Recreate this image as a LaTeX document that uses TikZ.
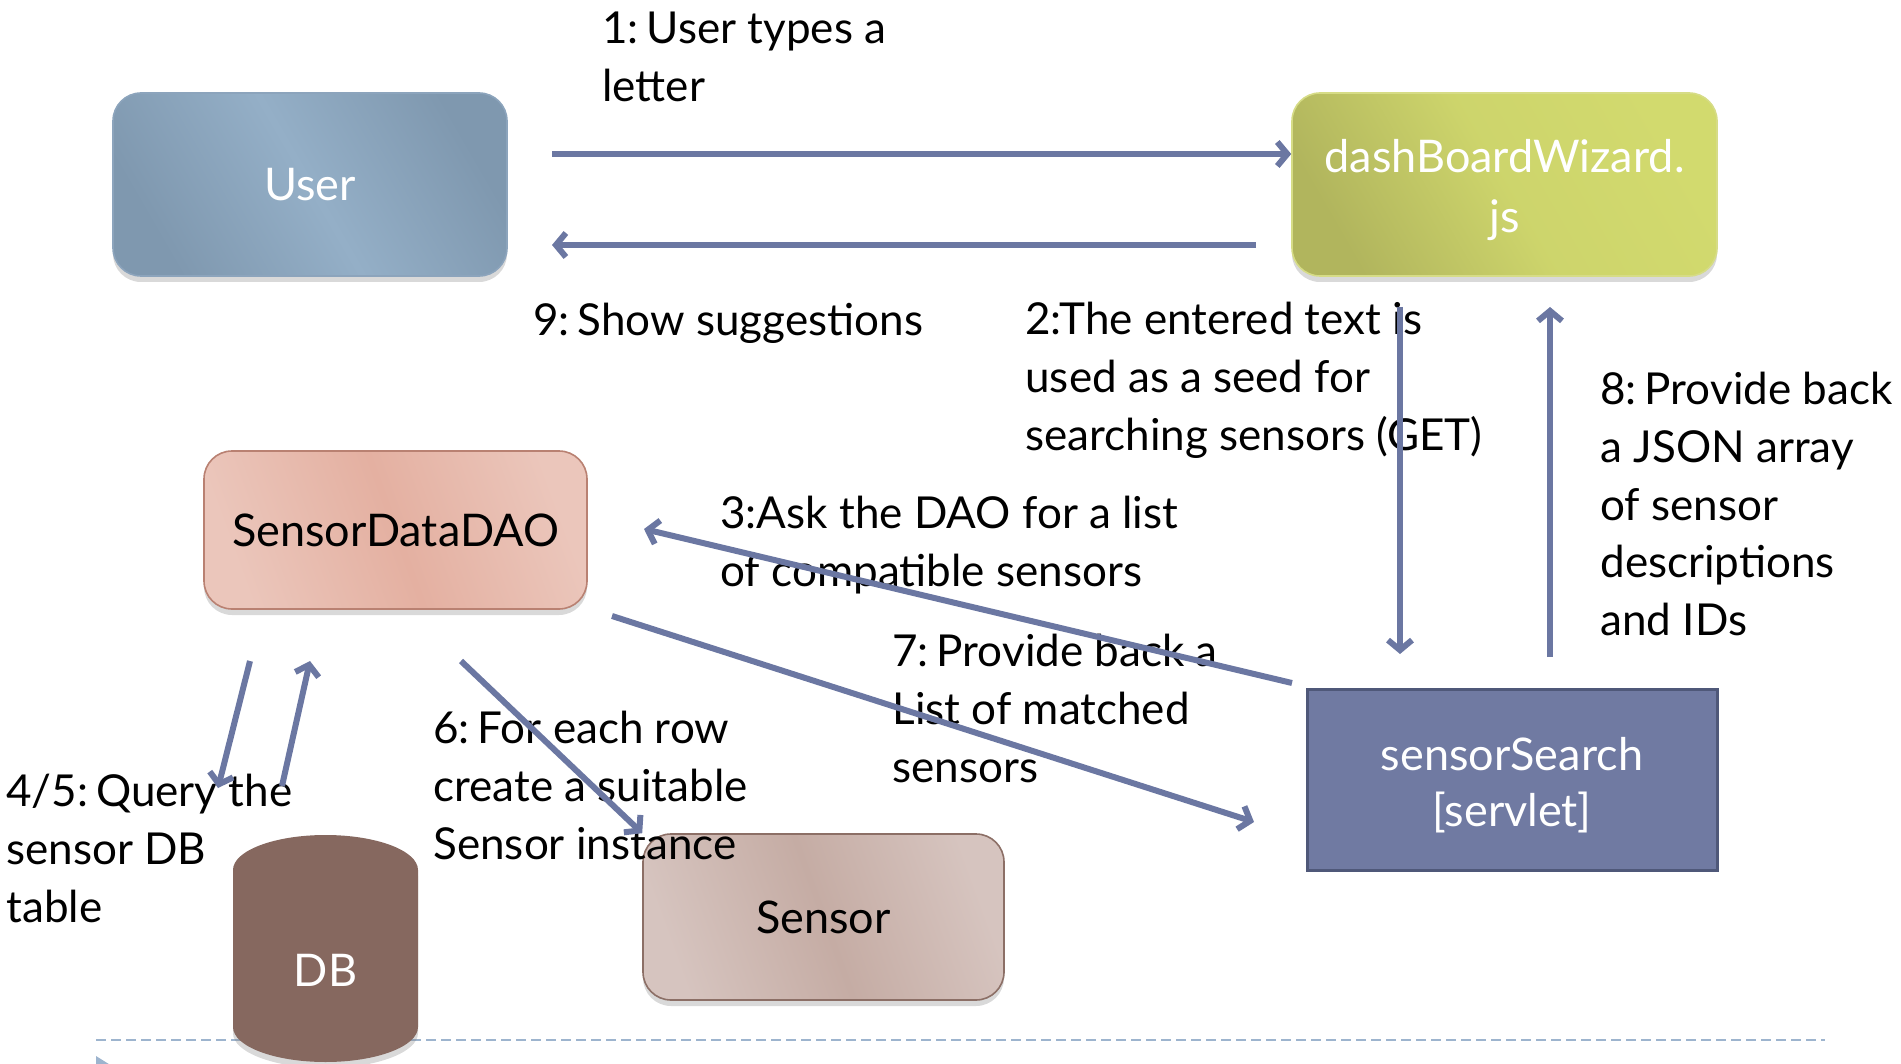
\documentclass[tikz,border=0pt]{standalone}
\usepackage{fontspec}
\setmainfont{Lato}
\usetikzlibrary{arrows.meta,shadows}

\definecolor{flowblue}{HTML}{6B77A2}
\definecolor{ruleblue}{HTML}{9DB4CE}
\definecolor{userdark}{HTML}{7F98AF}
\definecolor{userlight}{HTML}{94AFC7}
\definecolor{userrim}{HTML}{8CA4BC}
\definecolor{dashdark}{HTML}{B1B55D}
\definecolor{dashlight}{HTML}{D2DA6E}
\definecolor{dashrim}{HTML}{D6DC86}
\definecolor{daolight}{HTML}{EBC6BB}
\definecolor{daodark}{HTML}{E4B0A1}
\definecolor{daorim}{HTML}{B98172}
\definecolor{searchfill}{HTML}{707AA2}
\definecolor{searchrim}{HTML}{4F5879}
\definecolor{sensorlight}{HTML}{D6C4BF}
\definecolor{sensordark}{HTML}{C5ACA4}
\definecolor{sensorrim}{HTML}{8C6F66}
\definecolor{dbfill}{HTML}{86685F}

\newcommand{\cgap}{\hspace{0.18em}}

\begin{document}
\begin{tikzpicture}[x=0.5pt,y=0.5pt,yscale=-1,xscale=1,
    flow/.style={draw=flowblue,line width=3pt,-{Straight Barb[length=5pt,width=12pt]}},
    lbl/.style={anchor=north west,inner sep=0pt,align=left,font=\fontsize{22}{28.8}\selectfont},
    boxtxt/.style={font=\fontsize{22.5}{29}\selectfont,align=center,inner sep=0pt},
    softshadow/.style={drop shadow={shadow xshift=0pt,shadow yshift=-3pt,opacity=0.3}}]
    \useasboundingbox (0,0) rectangle (1901,1064);

    %Straight Lines: slide rule
    \draw[ruleblue,line width=1.2pt,dash pattern=on 5pt off 2.5pt] (96,1040) -- (1825,1040);
    \fill[ruleblue] (96,1056) -- (112,1066) -- (96,1076) -- cycle;

    %Shape: Rounded Rect [user]
    \node[boxtxt,text=white,rounded corners=14pt,minimum width=197pt,minimum height=91.5pt,
        draw=userrim,line width=0.8pt,left color=userdark,right color=userdark,middle color=userlight,
        shading angle=120,softshadow] (user) at (310,184.5) {User};
    %Shape: Rounded Rect [dashboard]
    \node[boxtxt,text=white,rounded corners=14pt,minimum width=212.5pt,minimum height=91.5pt,
        draw=dashrim,line width=0.8pt,left color=dashdark,right color=dashlight,middle color=dashlight!85!dashdark,
        shading angle=120,softshadow] (dash) at (1504.5,184.5) {};
    \node[boxtxt,text=white,font=\fontsize{22.5}{30}\selectfont] (dashtxt) at (1504.5,190) {dashBoardWizard.\\js};
    %Shape: Rounded Rect [dao]
    \node[boxtxt,rounded corners=14pt,minimum width=191.5pt,minimum height=79pt,
        draw=daorim,line width=0.8pt,left color=daolight,right color=daolight,middle color=daodark,
        shading angle=110,softshadow] (dao) at (395.5,530) {SensorDataDAO};
    %Shape: Rectangle [servlet]
    \node[boxtxt,text=white,minimum width=205pt,minimum height=90.5pt,
        draw=searchrim,line width=1.5pt,fill=searchfill] (search) at (1512,779.5) {};
    \node[boxtxt,text=white,font=\fontsize{22.5}{28}\selectfont] (searchtxt) at (1512,785) {sensorSearch\\{[servlet]}};
    %Shape: Rounded Rect [sensor]
    \node[boxtxt,rounded corners=14pt,minimum width=180.5pt,minimum height=83pt,
        draw=sensorrim,line width=0.8pt,left color=sensorlight,right color=sensorlight,middle color=sensordark,
        shading angle=110,softshadow] (sensor) at (823.5,917) {Sensor};
    %Shape: Can [db]
    \fill[dbfill,softshadow] (233,870) arc[start angle=180,end angle=360,x radius=92.5,y radius=35]
        -- (418,1027) arc[start angle=0,end angle=180,x radius=92.5,y radius=35] -- cycle;
    \node[boxtxt,text=white] (db) at (325.5,970) {DB};

    % Text Node
    \node[lbl] (txtType) at (602,12) {1:\cgap User types a\\letter};
    % Text Node
    \node[lbl] (txtShow) at (533,303) {9:\cgap Show suggestions};
    % Text Node
    \node[lbl] (txtSeed) at (1025,302) {2:The entered text is\\used as a seed for\\searching sensors (GET)};
    % Text Node
    \node[lbl] (txtJson) at (1600,372) {8:\cgap Provide back\\a JSON array\\of sensor\\descriptions\\and IDs};
    % Text Node
    \node[lbl] (txtAsk) at (720,496) {3:Ask the DAO for a list\\of compatible sensors};
    % Text Node
    \node[lbl] (txtList) at (892,634) {7:\cgap Provide back a\\List of matched\\sensors};
    % Text Node
    \node[lbl] (txtRow) at (433,711) {6:\cgap For each row\\create a suitable\\Sensor instance};
    % Text Node
    \node[lbl] (txtQuery) at (6,774) {4/5:\cgap Query the\\sensor DB\\table};

    % arrow ends
    \coordinate (typeS) at (552,154);
    \coordinate (showS) at (1256,245);
    \coordinate (showE) at (552,245);
    \coordinate (getS) at (1400,307);
    \coordinate (getE) at (1400,654);
    \coordinate (jsonS) at (1550,657);
    \coordinate (jsonE) at (1550,307);
    \coordinate (askS) at (1292,683);
    \coordinate (askE) at (644,529);
    \coordinate (listS) at (612,616);
    \coordinate (listE) at (1254,822);
    \coordinate (queryS) at (250,661);
    \coordinate (queryE) at (218,788);
    \coordinate (rowsS) at (282,786);
    \coordinate (rowsE) at (310,661);
    \coordinate (makeS) at (461,661);

    %Straight Lines: the flow
    \draw[flow] (typeS) -- (typeS -| dash.west);
    \draw[flow] (showS) -- (showE);
    \draw[flow] (getS) -- (getE);
    \draw[flow] (jsonS) -- (jsonE);
    \draw[flow] (askS) -- (askE);
    \draw[flow] (listS) -- (listE);
    \draw[flow] (queryS) -- (queryE);
    \draw[flow] (rowsS) -- (rowsE);
    \draw[flow] (makeS) -- (sensor.north west);

\end{tikzpicture}
\end{document}
